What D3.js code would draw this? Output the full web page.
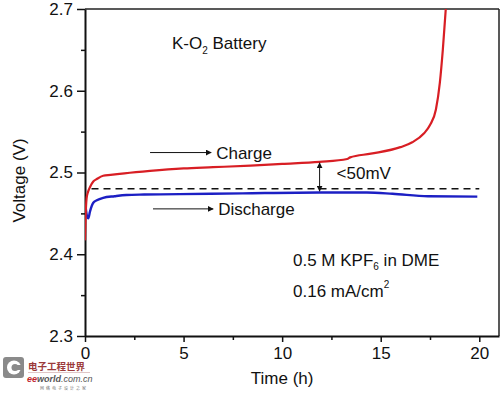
<!DOCTYPE html>
<html>
<head>
<meta charset="utf-8">
<script src="https://cdn.jsdelivr.net/npm/d3@7/dist/d3.min.js"></script>
<style>
  body { margin: 0; background: #fff; }
  svg { display: block; font-family: "Liberation Sans", Arial, sans-serif; }
</style>
</head>
<body>
<svg id="chart" width="500" height="393"></svg>
<script>
// charge curve (h, V)
const chargeTime = [0, 0.03, 0.08, 0.15, 0.25, 0.42, 0.6, 0.92, 1.3, 2, 3.3, 5, 6.5, 8.4, 10, 11.9, 13.3, 13.45, 14.5, 16.0, 16.6, 17.2, 17.5, 17.8, 18.0, 18.15, 18.3, 18.4];
const chargeVolt = [2.417, 2.445, 2.468, 2.476, 2.482, 2.489, 2.492, 2.496, 2.497, 2.499, 2.502, 2.505, 2.5065, 2.5085, 2.5105, 2.513, 2.5165, 2.5185, 2.523, 2.531, 2.537, 2.548, 2.558, 2.577, 2.61, 2.65, 2.70, 2.73];

// discharge curve (h, V)
const dischargeTime = [0.03, 0.1, 0.17, 0.25, 0.42, 0.6, 0.92, 1.5, 2.1, 3, 4.8, 8, 11.9, 14.3, 15.6, 17.4, 19.9];
const dischargeVolt = [2.458, 2.447, 2.444, 2.452, 2.463, 2.466, 2.469, 2.471, 2.4725, 2.473, 2.4735, 2.4745, 2.4755, 2.4755, 2.474, 2.471, 2.4705];

// dashed reference line and overpotential gap
const refLine = [[0.33, 2.48], [20, 2.48]];
const gapTime = 11.9;
const gapVolt = [2.513, 2.476];

const xTicks = [0, 5, 10, 15, 20];
const xMinor = [2.5, 7.5, 12.5, 17.5];
const yTicks = [2.3, 2.4, 2.5, 2.6, 2.7];
const yMinor = [2.35, 2.45, 2.55, 2.65];

const margin = {top: 9, right: 1, bottom: 57, left: 85};
const width = 500, height = 393;
const fs = 17;

const svg = d3.select('#chart');

const x = d3.scaleLinear().domain([0, 21]).range([margin.left, width - margin.right]);
const y = d3.scaleLinear().domain([2.3, 2.7]).range([height - margin.bottom, margin.top]);

const red = '#d81e24';
const blue = '#1c1fc4';

// clip for curves
const defs = svg.append('defs');
defs.append('clipPath').attr('id', 'clip')
    .append('rect')
    .attr('x', x(0)).attr('y', y(2.7))
    .attr('width', x(21) - x(0)).attr('height', y(2.3) - y(2.7));

defs.append('marker')
    .attr('id', 'head')
    .attr('viewBox', '0 0 10 10')
    .attr('refX', 9).attr('refY', 5)
    .attr('markerWidth', 6).attr('markerHeight', 6)
    .attr('markerUnits', 'userSpaceOnUse')
    .attr('orient', 'auto-start-reverse')
    .append('path').attr('d', 'M0,0 L10,5 L0,10 Z').attr('fill', '#111');

// frame (top and right)
svg.append('line')
    .attr('x1', x(0)).attr('x2', x(21)).attr('y1', y(2.7)).attr('y2', y(2.7))
    .attr('stroke', '#222').attr('stroke-width', 1.5);
svg.append('line')
    .attr('x1', x(21)).attr('x2', x(21)).attr('y1', y(2.7)).attr('y2', y(2.3))
    .attr('stroke', '#222').attr('stroke-width', 1.5);

// axes
svg.append('g')
    .attr('transform', `translate(0,${y(2.3)})`)
    .call(d3.axisBottom(x).tickValues(xTicks).tickFormat(d3.format('d')).tickSize(6).tickPadding(5).tickSizeOuter(0));
svg.append('g')
    .attr('transform', `translate(0,${y(2.3)})`)
    .call(d3.axisBottom(x).tickValues(xMinor).tickFormat('').tickSize(4).tickSizeOuter(0))
    .select('.domain').remove();

svg.append('g')
    .attr('transform', `translate(${x(0)},0)`)
    .call(d3.axisLeft(y).tickValues(yTicks).tickFormat(d3.format('.1f')).tickSize(8).tickPadding(4).tickSizeOuter(0));
svg.append('g')
    .attr('transform', `translate(${x(0)},0)`)
    .call(d3.axisLeft(y).tickValues(yMinor).tickFormat('').tickSize(4).tickSizeOuter(0))
    .select('.domain').remove();

svg.selectAll('.domain').attr('stroke', '#111').attr('stroke-width', 2);
svg.selectAll('.tick line').attr('stroke', '#111').attr('stroke-width', 1.5);
svg.selectAll('.tick text').attr('font-size', fs).attr('fill', '#111')
    .attr('font-family', '"Liberation Sans", Arial, sans-serif');

// axis titles
svg.append('text')
    .attr('x', (x(0) + x(20)) / 2).attr('y', 384)
    .attr('text-anchor', 'middle').attr('font-size', fs).attr('fill', '#111')
    .text('Time (h)');
svg.append('text')
    .attr('transform', `translate(25,${(y(2.3) + y(2.7)) / 2 + 8}) rotate(-90)`)
    .attr('text-anchor', 'middle').attr('font-size', fs).attr('fill', '#111')
    .text('Voltage (V)');

// curves
const line = d3.line().x(d => x(d[0])).y(d => y(d[1])).curve(d3.curveMonotoneX);
const plot = svg.append('g').attr('clip-path', 'url(#clip)');

plot.append('path')
    .datum(refLine)
    .attr('d', line)
    .attr('fill', 'none').attr('stroke', '#111').attr('stroke-width', 1.5)
    .attr('stroke-dasharray', '7,5');

plot.append('path')
    .datum(dischargeTime.map((t, i) => [t, dischargeVolt[i]]))
    .attr('d', line)
    .attr('fill', 'none').attr('stroke', blue).attr('stroke-width', 2.4);

plot.append('path')
    .datum(chargeTime.map((t, i) => [t, chargeVolt[i]]))
    .attr('d', line)
    .attr('fill', 'none').attr('stroke', red).attr('stroke-width', 2.2);

// overpotential double arrow
svg.append('line')
    .attr('x1', x(gapTime)).attr('x2', x(gapTime))
    .attr('y1', y(gapVolt[0]) + 1).attr('y2', y(gapVolt[1]) - 1)
    .attr('stroke', '#111').attr('stroke-width', 1)
    .attr('marker-start', 'url(#head)').attr('marker-end', 'url(#head)');
svg.append('text')
    .attr('x', x(gapTime) + 17).attr('y', 179)
    .attr('font-size', fs).attr('fill', '#111')
    .text('<50mV');

// labels with arrows
function labelArrow(t0, t1, v, label) {
    svg.append('line')
        .attr('x1', x(t0)).attr('x2', x(t1)).attr('y1', y(v)).attr('y2', y(v))
        .attr('stroke', '#111').attr('stroke-width', 1)
        .attr('marker-end', 'url(#head)');
    svg.append('text')
        .attr('x', x(t1) + 5).attr('y', y(v) + 6)
        .attr('font-size', fs).attr('fill', '#111')
        .text(label);
}
labelArrow(3.3, 6.4, 2.5244, 'Charge');
labelArrow(3.45, 6.5, 2.4555, 'Discharge');

// K-O2 Battery
const t1 = svg.append('text').attr('x', 172).attr('y', 49).attr('font-size', fs).attr('fill', '#111');
t1.append('tspan').text('K-O');
t1.append('tspan').attr('font-size', 10).attr('dy', 5).text('2');
t1.append('tspan').attr('dy', -5).text(' Battery');

const t2 = svg.append('text').attr('x', 293).attr('y', 266).attr('font-size', fs).attr('fill', '#111');
t2.append('tspan').text('0.5 M KPF');
t2.append('tspan').attr('font-size', 10).attr('dy', 4).text('6');
t2.append('tspan').attr('dy', -4).text(' in DME');

const t3 = svg.append('text').attr('x', 293).attr('y', 297).attr('font-size', fs).attr('fill', '#111');
t3.append('tspan').text('0.16 mA/cm');
t3.append('tspan').attr('font-size', 10).attr('dy', -9).text('2');

// watermark
const wm = svg.append('g');
wm.append('rect').attr('x', 3).attr('y', 357).attr('width', 21).attr('height', 21).attr('rx', 3).attr('fill', '#8a8a8a');
wm.append('circle').attr('cx', 14).attr('cy', 367.5).attr('r', 7).attr('fill', '#fff');
wm.append('circle').attr('cx', 15).attr('cy', 367.5).attr('r', 3.5).attr('fill', '#8a8a8a');
wm.append('rect').attr('x', 15).attr('y', 365).attr('width', 8).attr('height', 5).attr('fill', '#8a8a8a');
wm.append('text').attr('x', 28).attr('y', 370).attr('font-size', 9.5).attr('font-weight', 'bold')
    .attr('font-family', '"Noto Sans CJK SC", sans-serif').attr('fill', '#9b3a3a').text('电子工程世界');
wm.append('line').attr('x1', 28).attr('x2', 90).attr('y1', 372.5).attr('y2', 372.5).attr('stroke', '#c9a0a0').attr('stroke-width', 0.6);
const wt = wm.append('text').attr('x', 27).attr('y', 382).attr('font-size', 9).attr('font-style', 'italic').attr('font-weight', 'bold');
wt.append('tspan').attr('fill', '#c0262c').text('ee');
wt.append('tspan').attr('fill', '#555').text('world');
wt.append('tspan').attr('fill', '#555').attr('font-weight', 'normal').text('.com.cn');
wm.append('text').attr('x', 40).attr('y', 389.5).attr('font-size', 4).attr('letter-spacing', 2)
    .attr('font-family', '"Noto Sans CJK SC", sans-serif').attr('fill', '#777').text('网络电子设计之家');
</script>
</body>
</html>
